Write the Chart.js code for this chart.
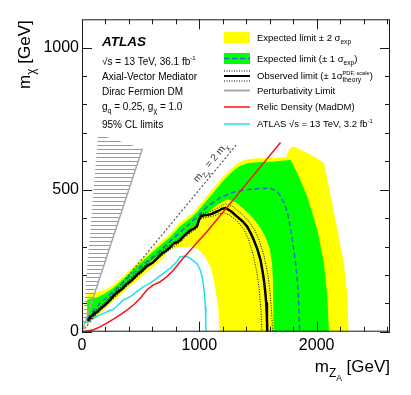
<!DOCTYPE html>
<html><head><meta charset="utf-8">
<script src="https://cdn.jsdelivr.net/npm/chart.js@4.4.0/dist/chart.umd.min.js"></script>
<style>html,body{margin:0;padding:0;background:#fff;}#wrap{width:411px;height:395px;}</style>
</head><body><div id="wrap"><canvas id="c" width="411" height="395"></canvas></div>
<script>
// ---------------- data (m_ZA [GeV], m_chi [GeV]) ----------------
const xMajorTicks = [0, 1000, 2000];
const xMinorTicks = [200, 400, 600, 800, 1200, 1400, 1600, 1800, 2200, 2400, 2600];
const yMajorTicks = [0, 500, 1000];
const yMinorTicks = [100, 200, 300, 400, 600, 700, 800, 900];

const band2Outer = [[40,0],[40,30],[38,80],[40,130],[80,138],[130,140],[200,148],[268,165],[350,195],[450,234],[553,272],[650,309],[750,345],[838,385],[900,405],[950,420],[1000,445],[1050,470],[1100,495],[1150,520],[1200,545],[1250,566],[1300,584],[1350,598],[1408,607],[1500,611],[1635,612],[1740,615],[1765,642],[1800,652],[1880,638],[1977,617],[2062,594],[2120,476],[2177,358],[2233,241],[2262,123],[2272,0]];
const band1Outer = [[45,0],[45,40],[43,85],[46,112],[80,118],[130,120],[200,135],[268,155],[350,185],[450,224],[553,262],[650,298],[750,333],[838,372],[900,392],[950,408],[1000,430],[1050,456],[1100,480],[1150,505],[1200,530],[1250,552],[1300,570],[1350,584],[1408,593],[1500,597],[1635,599],[1700,602],[1778,605],[1835,558],[1920,476],[2006,358],[2062,241],[2091,123],[2105,0]];
const band1Inner = [[45,0],[45,35],[100,60],[154,80],[268,128],[382,170],[468,202],[553,236],[681,280],[752,304],[838,330],[895,354],[980,384],[1066,418],[1150,446],[1240,466],[1310,456],[1380,432],[1450,404],[1510,372],[1560,338],[1600,292],[1620,240],[1628,170],[1631,80],[1632,0]];
const band2Inner = [[0,0],[40,0],[40,28],[100,47],[154,64],[268,108],[382,150],[468,180],[553,210],[640,238],[700,262],[724,282],[780,294],[838,298],[923,300],[994,290],[1051,262],[1094,230],[1122,185],[1145,130],[1163,70],[1171,0]];
const expected = [[45,45],[100,75],[154,100],[268,142],[410,196],[553,247],[695,296],[809,340],[895,372],[980,405],[1066,440],[1179,472],[1293,492],[1408,500],[1521,505],[1607,505],[1660,495],[1692,478],[1725,450],[1750,420],[1775,370],[1792,323],[1821,241],[1840,159],[1849,76],[1855,0]];
const observed = [[50,38],[70,50],[100,62],[130,70],[154,80],[190,92],[230,108],[268,125],[300,138],[340,150],[382,168],[420,180],[468,200],[510,214],[553,232],[600,242],[640,258],[681,276],[720,286],[752,298],[780,310],[810,315],[838,323],[870,338],[895,347],[930,358],[960,365],[980,372],[995,392],[1009,405],[1040,410],[1066,411],[1100,414],[1122,418],[1160,425],[1190,432],[1222,436],[1270,424],[1322,405],[1370,388],[1408,370],[1440,345],[1464,323],[1495,290],[1521,253],[1540,210],[1550,182],[1562,140],[1570,100],[1576,50],[1579,0]];
const observedUp = [[50,44],[100,69],[154,87],[268,133],[382,176],[468,208],[553,240],[681,284],[752,306],[838,331],[895,355],[980,380],[1009,412],[1066,419],[1122,428],[1222,450],[1290,440],[1360,415],[1420,390],[1470,360],[1510,322],[1550,270],[1585,200],[1605,130],[1617,60],[1624,0]];
const observedDown = [[50,32],[100,55],[154,73],[268,117],[382,160],[468,192],[553,224],[681,268],[752,290],[838,315],[895,339],[980,364],[1009,398],[1066,403],[1122,408],[1200,420],[1260,410],[1320,390],[1380,360],[1420,325],[1460,270],[1490,210],[1510,150],[1525,80],[1533,0]];
const relicDensity = [[20,0],[60,3],[97,7],[154,17],[211,30],[268,44],[325,59],[382,76],[439,94],[496,118],[553,147],[609,165],[667,176],[724,194],[780,217],[838,247],[895,274],[951,300],[1010,327],[1066,353],[1380,510],[1692,666]];
const atlas32 = [[12,30],[40,35],[97,47],[154,59],[211,70],[268,79],[310,95],[353,112],[410,123],[468,141],[524,159],[581,171],[638,188],[695,206],[752,223],[809,247],[838,264],[870,266],[895,264],[923,257],[960,246],[980,240],[1009,217],[1025,190],[1037,159],[1046,120],[1051,88],[1055,40],[1057,0]];
const perturbHatch = [[0,0],[137,695],[515,645],[0,0]];
const perturbLine = [[0,0],[515,645]];
const diagonal = [[0,0],[1320,660]];

// ---------------- styles ----------------
const FONT = '"Liberation Sans", Arial, Helvetica, sans-serif';
const C_YELLOW = '#ffff00', C_GREEN = '#00ff00', C_BLUE = '#2f5fd8', C_RED = '#ff1010', C_CYAN = '#1fe0f0', C_GREY = '#a8a8a8';
const diagLabelAt = [1095, 596];

const pts = a => a.map(([x, y]) => ({x, y}));
function hatchPattern() {
  const c = document.createElement('canvas'); c.width = 8; c.height = 4;
  const g = c.getContext('2d'); g.strokeStyle = '#9a9a9a'; g.lineWidth = 1;
  g.beginPath(); g.moveTo(0, 1.5); g.lineTo(8, 1.5); g.stroke();
  return document.getElementById('c').getContext('2d').createPattern(c, 'repeat');
}
function area(d, color, order) {
  return {data: pts(d), showLine: true, fill: 'shape', backgroundColor: color, borderColor: 'rgba(0,0,0,0)', borderWidth: 0, pointRadius: 0, tension: 0, order};
}
function line(d, color, width, dash, order) {
  return {data: pts(d), showLine: true, fill: false, borderColor: color, borderWidth: width, borderDash: dash || [], pointRadius: 0, tension: 0, order, borderCapStyle: 'butt', borderJoinStyle: 'round'};
}

const datasets = [
  area(band2Outer, C_YELLOW, 20),
  area(band1Outer, C_GREEN, 19),
  area(band1Inner, C_YELLOW, 18),
  area(band2Inner, '#ffffff', 17),
  area(perturbHatch, hatchPattern(), 16),
  line(perturbLine, C_GREY, 1.5, null, 15),
  line(atlas32, C_CYAN, 1.5, null, 14),
  line(diagonal, '#555555', 1.2, [2, 2], 13),
  line(expected, C_BLUE, 1.5, [5, 3], 12),
  line(observedUp, '#000000', 1, [1, 1.5], 11),
  line(observedDown, '#000000', 1, [1, 1.5], 10),
  line(observed, '#000000', 2.5, null, 9),
  line(relicDensity, C_RED, 1.5, null, 8),
];

// ---------------- rich text ----------------
const LVL = {'0': [1, 0], '1': [0.7, 0.3], '-1': [0.6, -0.45], '2': [0.5, 0.5]};
function setFont(ctx, size, style) { ctx.font = (style ? style + ' ' : '') + size + 'px ' + FONT; }
function partW(ctx, p, size, style) {
  if (p.stack) return Math.max(...p.stack.map(q => partW(ctx, q, size, style)));
  const s = LVL[String(p[1] || 0)]; setFont(ctx, size * s[0], style); return ctx.measureText(p[0]).width;
}
function drawOne(ctx, p, x, y, size, style) {
  const s = LVL[String(p[1] || 0)]; setFont(ctx, size * s[0], style); ctx.fillText(p[0], x, y + s[1] * size);
}
function drawRich(ctx, parts, x, y, size, opt) {
  opt = opt || {}; const style = opt.style || '';
  const w = parts.reduce((a, p) => a + partW(ctx, p, size, style), 0);
  let cx = opt.align === 'right' ? x - w : (opt.align === 'center' ? x - w / 2 : x);
  ctx.fillStyle = opt.color || '#000'; ctx.textAlign = 'left'; ctx.textBaseline = 'alphabetic';
  for (const p of parts) {
    if (p.stack) p.stack.forEach(q => drawOne(ctx, q, cx, y, size, style));
    else drawOne(ctx, p, cx, y, size, style);
    cx += partW(ctx, p, size, style);
  }
}

const leftText = [
  {parts: [['ATLAS']], y: 46, size: 13.5, style: 'italic bold'},
  {parts: [['\u221As = 13 TeV, 36.1 fb'], ['-1', -1]], y: 64.5, size: 10},
  {parts: [['Axial-Vector Mediator']], y: 80, size: 10},
  {parts: [['Dirac Fermion DM']], y: 95, size: 10},
  {parts: [['g'], ['q', 1], [' = 0.25, g'], ['\u03C7', 1], [' = 1.0']], y: 110, size: 10},
  {parts: [['95% CL limits']], y: 127.5, size: 10},
];
const legendRows = [
  {y: 37.5, parts: [['Expected limit \u00B1 2 \u03C3'], ['exp', 1]]},
  {y: 58.5, parts: [['Expected limit (\u00B1 1 \u03C3'], ['exp', 1], [')']]},
  {y: 76, parts: [['Observed limit (\u00B1 1\u03C3'], {stack: [['PDF, scale', -1], ['theory', 1]]}, [')']]},
  {y: 90.5, parts: [['Perturbativity Limit']]},
  {y: 107, parts: [['Relic Density (MadDM)']]},
  {y: 124, parts: [['ATLAS \u221As = 13 TeV, 3.2 fb'], ['-1', -1]]},
];

const decor = {
  id: 'decor',
  afterDatasetsDraw(chart) {
    const ctx = chart.ctx, a = chart.chartArea, xs = chart.scales.x, ys = chart.scales.y;
    ctx.save();
    // frame + ticks
    ctx.strokeStyle = '#1a1a1a'; ctx.lineWidth = 1;
    ctx.strokeRect(a.left + 0.5, a.top + 0.5, a.right - a.left - 1, a.bottom - a.top - 1);
    ctx.beginPath();
    const tx = (v, len) => { const p = Math.round(xs.getPixelForValue(v)) + 0.5; ctx.moveTo(p, a.bottom); ctx.lineTo(p, a.bottom - len); ctx.moveTo(p, a.top); ctx.lineTo(p, a.top + len); };
    const ty = (v, len) => { const p = Math.round(ys.getPixelForValue(v)) + 0.5; ctx.moveTo(a.left, p); ctx.lineTo(a.left + len, p); ctx.moveTo(a.right, p); ctx.lineTo(a.right - len, p); };
    xMajorTicks.forEach(v => tx(v, 10)); xMinorTicks.forEach(v => tx(v, 5));
    yMajorTicks.forEach(v => ty(v, 10)); yMinorTicks.forEach(v => ty(v, 5));
    ctx.stroke();

    // diagonal label
    const p1x = xs.getPixelForValue(diagonal[0][0]), p1y = ys.getPixelForValue(diagonal[0][1]);
    const p2x = xs.getPixelForValue(diagonal[1][0]), p2y = ys.getPixelForValue(diagonal[1][1]);
    const ang = Math.atan2(p2y - p1y, p2x - p1x);
    ctx.save();
    ctx.translate(xs.getPixelForValue(diagLabelAt[0]), ys.getPixelForValue(diagLabelAt[1]));
    ctx.rotate(ang);
    drawRich(ctx, [['m'], ['Z', 1], ['A', 2], [' = 2 m'], ['\u03C7', 1]], 0, 3, 10, {align: 'center', color: '#333'});
    ctx.restore();

    // left text block
    leftText.forEach(r => drawRich(ctx, r.parts, 102, r.y, r.size, {style: r.style}));

    // legend
    const lx0 = 224, lx1 = 250, tx0 = 257;
    ctx.fillStyle = C_YELLOW; ctx.fillRect(lx0, legendRows[0].y - 5.5, lx1 - lx0, 11);
    ctx.fillStyle = C_GREEN; ctx.fillRect(lx0, legendRows[1].y - 5.5, lx1 - lx0, 11);
    const hl = (y, color, w, dash) => { ctx.beginPath(); ctx.setLineDash(dash || []); ctx.strokeStyle = color; ctx.lineWidth = w; ctx.moveTo(lx0, y); ctx.lineTo(lx1, y); ctx.stroke(); ctx.setLineDash([]); };
    hl(legendRows[1].y, C_BLUE, 1.5, [5, 3]);
    hl(legendRows[2].y, '#000', 2, null);
    hl(legendRows[2].y - 5, '#000', 1, [1, 1.5]);
    hl(legendRows[2].y + 5, '#000', 1, [1, 1.5]);
    hl(legendRows[3].y, C_GREY, 2, null);
    hl(legendRows[4].y, C_RED, 1.5, null);
    hl(legendRows[5].y, C_CYAN, 1.5, null);
    legendRows.forEach(r => drawRich(ctx, r.parts, tx0, r.y + 3.4, 9.5));

    // axis titles
    drawRich(ctx, [['m'], ['Z', 1], ['A', 2], [' [GeV]']], a.right, 372, 17, {align: 'right'});
    ctx.save(); ctx.translate(30, a.top + 1); ctx.rotate(-Math.PI / 2);
    drawRich(ctx, [['m'], ['\u03C7', 1], [' [GeV]']], 0, 0, 17, {align: 'right'});
    ctx.restore();
    ctx.restore();
  }
};

const tickFont = {family: 'Liberation Sans', size: 16};
new Chart(document.getElementById('c'), {
  type: 'scatter',
  data: {datasets},
  options: {
    responsive: false, animation: false, devicePixelRatio: 1,
    layout: {padding: {top: 19.3, right: 21, left: 0, bottom: 0}},
    plugins: {legend: {display: false}, tooltip: {enabled: false}},
    scales: {
      x: {type: 'linear', min: 0, max: 2625, grid: {display: false, drawTicks: false}, border: {display: false},
          ticks: {font: tickFont, color: '#000', padding: 4, maxRotation: 0, autoSkip: false, callback: v => String(v)},
          afterBuildTicks: s => { s.ticks = xMajorTicks.map(v => ({value: v})); },
          afterFit: s => { s.height = 63.3; }},
      y: {type: 'linear', min: 0, max: 1100, grid: {display: false, drawTicks: false}, border: {display: false},
          ticks: {font: tickFont, color: '#000', padding: 3, autoSkip: false, callback: v => String(v)},
          afterBuildTicks: s => { s.ticks = yMajorTicks.map(v => ({value: v})); },
          afterFit: s => { s.width = 82; }}
    }
  },
  plugins: [decor]
});
</script></body></html>
